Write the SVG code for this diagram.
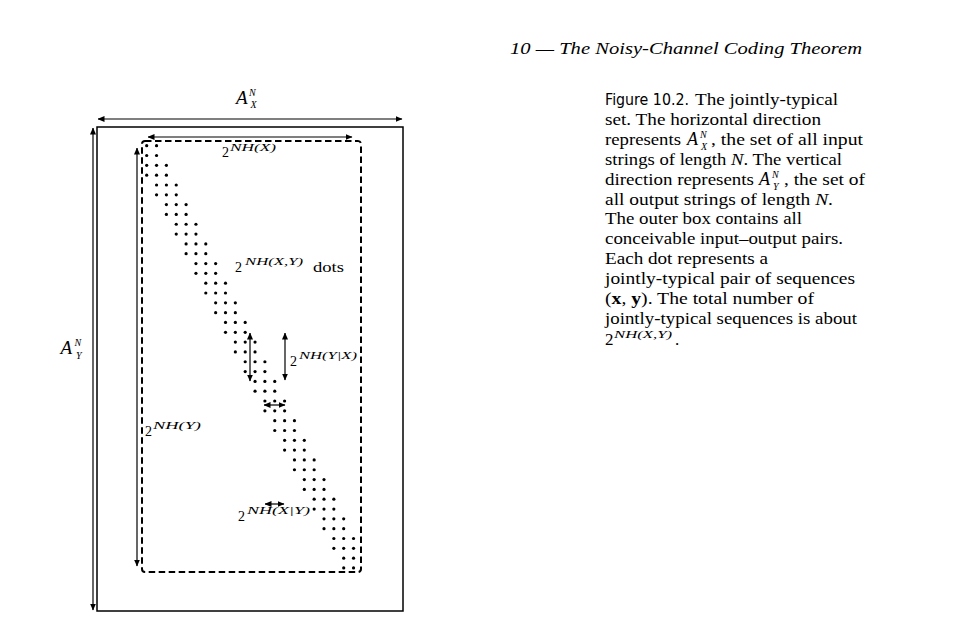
<svg xmlns="http://www.w3.org/2000/svg" width="961" height="631" viewBox="0 0 961 631">
<defs>
<marker id="ah" viewBox="0 0 7 6" markerUnits="userSpaceOnUse" markerWidth="7" markerHeight="6" refX="6.5" refY="3" orient="auto-start-reverse">
<path d="M0,0 L7,3 L0,6 z" fill="#000"/>
</marker>
<style>
.ser{font-family:"Liberation Serif","DejaVu Serif",serif;fill:#000}
.it{font-style:italic}
.bf{font-weight:bold}
.cap{font-size:17px}
.sans{font-family:"DejaVu Sans","Liberation Sans",sans-serif;fill:#000}
.arr{stroke:#000;stroke-width:1.2;fill:none;marker-start:url(#ah);marker-end:url(#ah)}
.two{font-size:14px}
.sup{font-size:11px;font-style:italic}
.scr{font-size:10px;font-style:italic}
.dot{fill:#000}
</style>
</defs>
<rect width="961" height="631" fill="#fff"/>

<text class="ser it" x="510" y="54" font-size="17.5" textLength="352" lengthAdjust="spacingAndGlyphs">10 — The Noisy-Channel Coding Theorem</text>

<g id="outer-box">
<rect x="97" y="127" width="306" height="484" fill="none" stroke="#000" stroke-width="1.5"/>
</g>
<g id="typical-box">
<rect x="142" y="141" width="219" height="431" rx="3" fill="none" stroke="#000" stroke-width="2" stroke-dasharray="6.5 3.5"/>
</g>

<g id="connectors">
<line class="arr" x1="98" y1="119" x2="402" y2="119"/>
<line class="arr" x1="93" y1="128" x2="93" y2="610"/>
<line class="arr" x1="148" y1="137" x2="352" y2="137"/>
<line class="arr" x1="137" y1="148" x2="137" y2="566"/>
<line class="arr" x1="250" y1="333" x2="250" y2="381"/>
<line class="arr" x1="285" y1="333" x2="285" y2="380"/>
<line class="arr" x1="264" y1="405" x2="285" y2="405"/>
<line class="arr" x1="265" y1="504" x2="284" y2="504"/>
</g>

<g id="label-AX">
<text class="ser it" x="236" y="104" font-size="19">A</text>
<text class="ser scr" x="249" y="95.5">N</text>
<text class="ser scr" x="250.5" y="107.5">X</text>
</g>
<g id="label-AY">
<text class="ser it" x="60.5" y="354" font-size="19">A</text>
<text class="ser scr" x="74.5" y="345.5">N</text>
<text class="ser scr" x="76" y="358.5">Y</text>
</g>

<g id="label-HX">
<text class="ser two" x="222" y="157">2</text>
<text class="ser sup" x="230" y="150.5" textLength="46" lengthAdjust="spacingAndGlyphs">NH(X)</text>
</g>
<g id="label-HXY">
<text class="ser two" x="235" y="272">2</text>
<text class="ser sup" x="245" y="265" textLength="58" lengthAdjust="spacingAndGlyphs">NH(X,Y)</text>
<text class="ser" x="313" y="272" font-size="14" textLength="31" lengthAdjust="spacingAndGlyphs">dots</text>
</g>
<g id="label-HYgX">
<text class="ser two" x="290" y="366">2</text>
<text class="ser sup" x="299" y="359" textLength="58" lengthAdjust="spacingAndGlyphs">NH(Y|X)</text>
</g>
<g id="label-HY">
<text class="ser two" x="145" y="436">2</text>
<text class="ser sup" x="153" y="429" textLength="48" lengthAdjust="spacingAndGlyphs">NH(Y)</text>
</g>
<g id="label-HXgY">
<text class="ser two" x="238" y="521">2</text>
<text class="ser sup" x="247" y="514" textLength="63" lengthAdjust="spacingAndGlyphs">NH(X|Y)</text>
</g>

<g id="dots">
<circle class="dot" cx="146.7" cy="145.7" r="1.6"/><circle class="dot" cx="156.55" cy="145.7" r="1.6"/>
<circle class="dot" cx="146.7" cy="155.52" r="1.6"/><circle class="dot" cx="156.55" cy="155.52" r="1.6"/>
<circle class="dot" cx="146.7" cy="165.34" r="1.6"/><circle class="dot" cx="156.55" cy="165.34" r="1.6"/><circle class="dot" cx="166.4" cy="165.34" r="1.6"/>
<circle class="dot" cx="146.7" cy="175.16" r="1.6"/><circle class="dot" cx="156.55" cy="175.16" r="1.6"/><circle class="dot" cx="166.4" cy="175.16" r="1.6"/>
<circle class="dot" cx="156.55" cy="184.98" r="1.6"/><circle class="dot" cx="166.4" cy="184.98" r="1.6"/><circle class="dot" cx="176.25" cy="184.98" r="1.6"/>
<circle class="dot" cx="156.55" cy="194.8" r="1.6"/><circle class="dot" cx="166.4" cy="194.8" r="1.6"/><circle class="dot" cx="176.25" cy="194.8" r="1.6"/>
<circle class="dot" cx="166.4" cy="204.62" r="1.6"/><circle class="dot" cx="176.25" cy="204.62" r="1.6"/><circle class="dot" cx="186.1" cy="204.62" r="1.6"/>
<circle class="dot" cx="166.4" cy="214.44" r="1.6"/><circle class="dot" cx="176.25" cy="214.44" r="1.6"/><circle class="dot" cx="186.1" cy="214.44" r="1.6"/>
<circle class="dot" cx="176.25" cy="224.26" r="1.6"/><circle class="dot" cx="186.1" cy="224.26" r="1.6"/><circle class="dot" cx="195.95" cy="224.26" r="1.6"/>
<circle class="dot" cx="176.25" cy="234.08" r="1.6"/><circle class="dot" cx="186.1" cy="234.08" r="1.6"/><circle class="dot" cx="195.95" cy="234.08" r="1.6"/>
<circle class="dot" cx="186.1" cy="243.9" r="1.6"/><circle class="dot" cx="195.95" cy="243.9" r="1.6"/><circle class="dot" cx="205.8" cy="243.9" r="1.6"/>
<circle class="dot" cx="186.1" cy="253.72" r="1.6"/><circle class="dot" cx="195.95" cy="253.72" r="1.6"/><circle class="dot" cx="205.8" cy="253.72" r="1.6"/>
<circle class="dot" cx="195.95" cy="263.54" r="1.6"/><circle class="dot" cx="205.8" cy="263.54" r="1.6"/><circle class="dot" cx="215.65" cy="263.54" r="1.6"/>
<circle class="dot" cx="195.95" cy="273.36" r="1.6"/><circle class="dot" cx="205.8" cy="273.36" r="1.6"/><circle class="dot" cx="215.65" cy="273.36" r="1.6"/>
<circle class="dot" cx="205.8" cy="283.18" r="1.6"/><circle class="dot" cx="215.65" cy="283.18" r="1.6"/><circle class="dot" cx="225.5" cy="283.18" r="1.6"/>
<circle class="dot" cx="205.8" cy="293" r="1.6"/><circle class="dot" cx="215.65" cy="293" r="1.6"/><circle class="dot" cx="225.5" cy="293" r="1.6"/>
<circle class="dot" cx="215.65" cy="302.82" r="1.6"/><circle class="dot" cx="225.5" cy="302.82" r="1.6"/><circle class="dot" cx="235.35" cy="302.82" r="1.6"/>
<circle class="dot" cx="215.65" cy="312.64" r="1.6"/><circle class="dot" cx="225.5" cy="312.64" r="1.6"/><circle class="dot" cx="235.35" cy="312.64" r="1.6"/>
<circle class="dot" cx="225.5" cy="322.46" r="1.6"/><circle class="dot" cx="235.35" cy="322.46" r="1.6"/><circle class="dot" cx="245.2" cy="322.46" r="1.6"/>
<circle class="dot" cx="225.5" cy="332.28" r="1.6"/><circle class="dot" cx="235.35" cy="332.28" r="1.6"/><circle class="dot" cx="245.2" cy="332.28" r="1.6"/>
<circle class="dot" cx="235.35" cy="342.1" r="1.6"/><circle class="dot" cx="245.2" cy="342.1" r="1.6"/><circle class="dot" cx="255.05" cy="342.1" r="1.6"/>
<circle class="dot" cx="235.35" cy="351.92" r="1.6"/><circle class="dot" cx="245.2" cy="351.92" r="1.6"/><circle class="dot" cx="255.05" cy="351.92" r="1.6"/>
<circle class="dot" cx="245.2" cy="361.74" r="1.6"/><circle class="dot" cx="255.05" cy="361.74" r="1.6"/><circle class="dot" cx="264.9" cy="361.74" r="1.6"/>
<circle class="dot" cx="245.2" cy="371.56" r="1.6"/><circle class="dot" cx="255.05" cy="371.56" r="1.6"/><circle class="dot" cx="264.9" cy="371.56" r="1.6"/>
<circle class="dot" cx="255.05" cy="381.38" r="1.6"/><circle class="dot" cx="264.9" cy="381.38" r="1.6"/><circle class="dot" cx="274.75" cy="381.38" r="1.6"/>
<circle class="dot" cx="255.05" cy="391.2" r="1.6"/><circle class="dot" cx="264.9" cy="391.2" r="1.6"/><circle class="dot" cx="274.75" cy="391.2" r="1.6"/>
<circle class="dot" cx="264.9" cy="401.02" r="1.6"/><circle class="dot" cx="274.75" cy="401.02" r="1.6"/><circle class="dot" cx="284.6" cy="401.02" r="1.6"/>
<circle class="dot" cx="264.9" cy="410.84" r="1.6"/><circle class="dot" cx="274.75" cy="410.84" r="1.6"/><circle class="dot" cx="284.6" cy="410.84" r="1.6"/>
<circle class="dot" cx="274.75" cy="420.66" r="1.6"/><circle class="dot" cx="284.6" cy="420.66" r="1.6"/><circle class="dot" cx="294.45" cy="420.66" r="1.6"/>
<circle class="dot" cx="274.75" cy="430.48" r="1.6"/><circle class="dot" cx="284.6" cy="430.48" r="1.6"/><circle class="dot" cx="294.45" cy="430.48" r="1.6"/>
<circle class="dot" cx="284.6" cy="440.3" r="1.6"/><circle class="dot" cx="294.45" cy="440.3" r="1.6"/><circle class="dot" cx="304.3" cy="440.3" r="1.6"/>
<circle class="dot" cx="284.6" cy="450.12" r="1.6"/><circle class="dot" cx="294.45" cy="450.12" r="1.6"/><circle class="dot" cx="304.3" cy="450.12" r="1.6"/>
<circle class="dot" cx="294.45" cy="459.94" r="1.6"/><circle class="dot" cx="304.3" cy="459.94" r="1.6"/><circle class="dot" cx="314.15" cy="459.94" r="1.6"/>
<circle class="dot" cx="294.45" cy="469.76" r="1.6"/><circle class="dot" cx="304.3" cy="469.76" r="1.6"/><circle class="dot" cx="314.15" cy="469.76" r="1.6"/>
<circle class="dot" cx="304.3" cy="479.58" r="1.6"/><circle class="dot" cx="314.15" cy="479.58" r="1.6"/><circle class="dot" cx="324" cy="479.58" r="1.6"/>
<circle class="dot" cx="304.3" cy="489.4" r="1.6"/><circle class="dot" cx="314.15" cy="489.4" r="1.6"/><circle class="dot" cx="324" cy="489.4" r="1.6"/>
<circle class="dot" cx="314.15" cy="499.22" r="1.6"/><circle class="dot" cx="324" cy="499.22" r="1.6"/><circle class="dot" cx="333.85" cy="499.22" r="1.6"/>
<circle class="dot" cx="314.15" cy="509.04" r="1.6"/><circle class="dot" cx="324" cy="509.04" r="1.6"/><circle class="dot" cx="333.85" cy="509.04" r="1.6"/>
<circle class="dot" cx="324" cy="518.86" r="1.6"/><circle class="dot" cx="333.85" cy="518.86" r="1.6"/><circle class="dot" cx="343.7" cy="518.86" r="1.6"/>
<circle class="dot" cx="324" cy="528.68" r="1.6"/><circle class="dot" cx="333.85" cy="528.68" r="1.6"/><circle class="dot" cx="343.7" cy="528.68" r="1.6"/>
<circle class="dot" cx="333.85" cy="538.5" r="1.6"/><circle class="dot" cx="343.7" cy="538.5" r="1.6"/><circle class="dot" cx="353.55" cy="538.5" r="1.6"/>
<circle class="dot" cx="333.85" cy="548.32" r="1.6"/><circle class="dot" cx="343.7" cy="548.32" r="1.6"/><circle class="dot" cx="353.55" cy="548.32" r="1.6"/>
<circle class="dot" cx="343.7" cy="558.14" r="1.6"/><circle class="dot" cx="353.55" cy="558.14" r="1.6"/>
<circle class="dot" cx="343.7" cy="567.96" r="1.6"/><circle class="dot" cx="353.55" cy="567.96" r="1.6"/>
</g>

<g id="caption">
<text class="sans" x="605" y="105" font-size="15.5" textLength="84" lengthAdjust="spacingAndGlyphs">Figure 10.2.</text>
<text class="ser cap" x="695" y="105" textLength="143" lengthAdjust="spacingAndGlyphs">The jointly-typical</text>
<text class="ser cap" x="605" y="125" textLength="216" lengthAdjust="spacingAndGlyphs">set. The horizontal direction</text>
<text class="ser cap" x="605" y="145" textLength="76" lengthAdjust="spacingAndGlyphs">represents</text>
<text class="ser it" x="687" y="145" font-size="18">A</text>
<text class="ser scr" x="700" y="137.5">N</text>
<text class="ser scr" x="701" y="149.5">X</text>
<text class="ser cap" x="711" y="145" textLength="152" lengthAdjust="spacingAndGlyphs">, the set of all input</text>
<text class="ser cap" x="605" y="165" textLength="237" lengthAdjust="spacingAndGlyphs">strings of length <tspan class="it">N</tspan>. The vertical</text>
<text class="ser cap" x="605" y="185" textLength="149" lengthAdjust="spacingAndGlyphs">direction represents</text>
<text class="ser it" x="759" y="185" font-size="18">A</text>
<text class="ser scr" x="772" y="177.5">N</text>
<text class="ser scr" x="773" y="189.5">Y</text>
<text class="ser cap" x="784" y="185" textLength="81" lengthAdjust="spacingAndGlyphs">, the set of</text>
<text class="ser cap" x="605" y="205" textLength="228" lengthAdjust="spacingAndGlyphs">all output strings of length <tspan class="it">N</tspan>.</text>
<text class="ser cap" x="605" y="224" textLength="197" lengthAdjust="spacingAndGlyphs">The outer box contains all</text>
<text class="ser cap" x="605" y="244" textLength="238" lengthAdjust="spacingAndGlyphs">conceivable input–output pairs.</text>
<text class="ser cap" x="605" y="264" textLength="163" lengthAdjust="spacingAndGlyphs">Each dot represents a</text>
<text class="ser cap" x="605" y="284" textLength="250" lengthAdjust="spacingAndGlyphs">jointly-typical pair of sequences</text>
<text class="ser cap" x="605" y="304" textLength="209" lengthAdjust="spacingAndGlyphs">(<tspan class="bf">x</tspan>, <tspan class="bf">y</tspan>). The total number of</text>
<text class="ser cap" x="605" y="324" textLength="252" lengthAdjust="spacingAndGlyphs">jointly-typical sequences is about</text>
<text class="ser cap" x="605" y="345">2</text>
<text class="ser sup" x="614" y="338" textLength="58" lengthAdjust="spacingAndGlyphs">NH(X,Y)</text>
<text class="ser cap" x="675" y="345">.</text>
</g>
</svg>
